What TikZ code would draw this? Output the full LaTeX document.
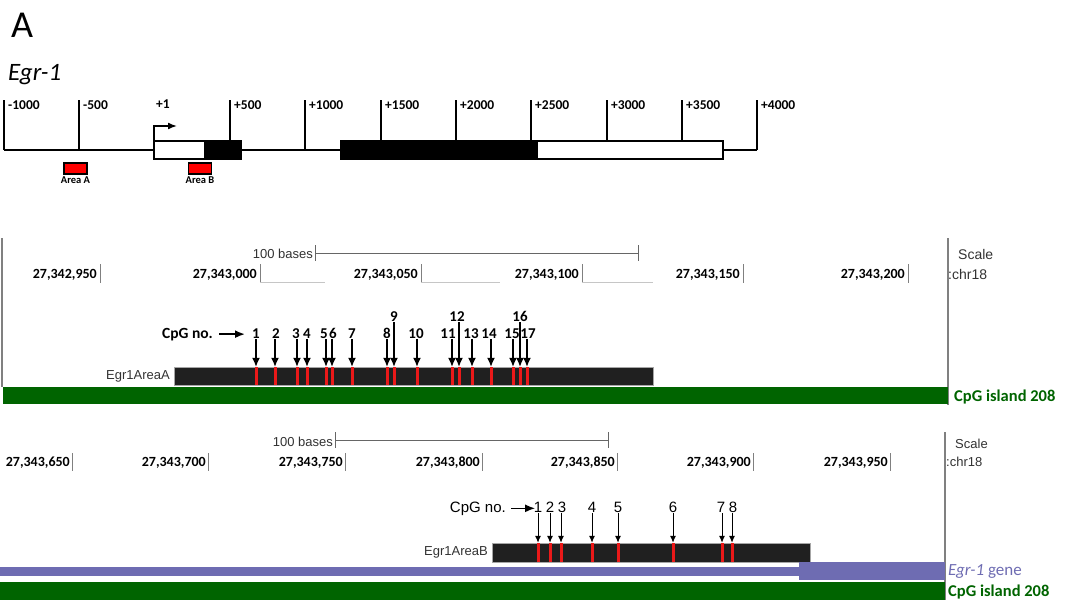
\documentclass[tikz,border=0pt]{standalone}
\usepackage{fontspec}
\setmainfont{Carlito}
\newfontfamily\ucscfont{Liberation Sans}
\usetikzlibrary{arrows.meta,positioning}

\definecolor{islandgreen}{RGB}{0,100,0}
\definecolor{genepurple}{RGB}{110,108,178}
\definecolor{sitered}{RGB}{235,25,25}
\definecolor{ampgray}{RGB}{32,32,32}
\definecolor{browsergray}{RGB}{50,50,50}

\tikzset{
  rulerline/.style={line width=1.6pt},
  rulerlabel/.style={font=\bfseries\fontsize{13.5}{13.5}\selectfont, anchor=base west, inner sep=1pt},
  arealabel/.style={font=\bfseries\fontsize{10.5}{10.5}\selectfont, inner sep=0pt},
  areabox/.style={fill=red, draw=black, line width=1.2pt, minimum width=23pt, minimum height=11pt, inner sep=0pt},
  poslabel/.style={font=\bfseries\fontsize{14}{14}\selectfont, anchor=base east, inner sep=0pt},
  postick/.style={gray, line width=1pt},
  scaletext/.style={font=\ucscfont\fontsize{13}{13}\selectfont, text=browsergray, inner sep=0pt},
  cpgnum/.style={font=\bfseries\fontsize{15}{15}\selectfont, anchor=base, inner sep=1pt},
  cpgnumB/.style={font=\ucscfont\fontsize{15}{15}\selectfont, anchor=base, inner sep=1pt},
  cpgmark/.style={fill=sitered, minimum width=3pt, minimum height=18pt, inner sep=0pt},
  cpgarrow/.style={line width=1.3pt, -{Latex[length=9pt,width=8pt]}},
  cpgarrowB/.style={line width=1pt, -{Latex[length=7pt,width=6pt]}},
  cpgpointer/.style={line width=1.8pt, -{Latex[length=10pt,width=8pt]}},
  ampbar/.style={fill=ampgray, draw=gray!70, line width=0.4pt, inner sep=0pt, anchor=west},
  tracklabel/.style={font=\bfseries\fontsize{16.5}{16.5}\selectfont, anchor=base west, inner sep=0pt},
}

\begin{document}
\begin{tikzpicture}[x=1pt, y=-1pt]
  \useasboundingbox (0,0) rectangle (1067,603);

  % Panel letter and gene name
  \node[font=\fontsize{38}{38}\selectfont, anchor=base west, inner sep=0pt] (panel) at (11,37) {A};
  \node[font=\itshape\fontsize{25}{25}\selectfont, anchor=base west, inner sep=0pt] (genename) at (8,80) {Egr-1};

  % Gene structure: exons
  \draw[rulerline, fill=white] (154,141) rectangle (205,159);
  \draw[rulerline, fill=black] (205,141) rectangle (241,159);
  \draw[rulerline, fill=black] (341,141) rectangle (537,159);
  \draw[rulerline, fill=white] (537,141) rectangle (723,159);

  % Baseline between exons
  \draw[rulerline] (4,150) -- (154,150);
  \draw[rulerline] (241,150) -- (341,150);
  \draw[rulerline] (723,150) -- (757,150);

  % Ruler ticks: x/label/bottom
  \foreach \x/\lbl/\bot in {4/-1000/150, 79/-500/150, 230/+500/141, 305/+1000/150,
      381/+1500/141, 456/+2000/141, 531/+2500/141, 607/+3000/141, 682/+3500/141, 757/+4000/150} {
    \draw[rulerline] (\x,100) -- (\x,\bot);
    \node[rulerlabel] at (\x+3,109) {\lbl};
  }
  \node[rulerlabel] (tss) at (155,108) {+1};

  % Transcription start
  \draw[rulerline, -{Latex[length=9pt,width=7pt]}] (154,141) -- (154,126) -- (177,126);

  % Analysed areas
  \node[areabox] (areaA) at (75.5,168.5) {};
  \node[arealabel, below=2pt of areaA] (areaAtxt) {Area A};
  \node[areabox] (areaB) at (200,168.5) {};
  \node[arealabel, below=2pt of areaB] (areaBtxt) {Area B};

  %% ---------- Browser view, Area A ----------
  \draw[gray, line width=1.2pt] (2,238) -- (2,387);
  \draw[gray, line width=1.2pt] (948,238) -- (948,405);

  % Scale bar
  \node[scaletext, anchor=base east] (scaleA) at (313,258) {100 bases};
  \draw[gray!80!black, line width=0.8pt] (315,253) -- (638,253);
  \draw[gray!80!black, line width=0.8pt] (315,245) -- (315,261);
  \draw[gray!80!black, line width=0.8pt] (638,245) -- (638,261);
  \node[scaletext, anchor=base west, font=\ucscfont\fontsize{14}{14}\selectfont] (scaleAtxt) at (958,259) {Scale};
  \node[scaletext, anchor=base west, font=\ucscfont\fontsize{14}{14}\selectfont] (chrA) at (948,279) {:chr18};

  % Chromosome positions
  \foreach \x/\lbl in {100/{27,342,950}, 260/{27,343,000}, 421/{27,343,050},
      582/{27,343,100}, 743/{27,343,150}, 908/{27,343,200}} {
    \node[poslabel] at (\x-3,278) {\lbl};
    \draw[postick] (\x,264) -- (\x,283);
  }
  \foreach \a/\b in {260/325, 421/500, 582/653}
    \draw[gray!45, line width=0.8pt] (\a,282) -- (\b,282);

  % Amplicon A
  \node[ampbar, minimum width=479pt, minimum height=18pt] (barA) at (174,376) {};
  \node[scaletext, left=4pt of barA] (barAtxt) {Egr1AreaA};

  % CpG sites: no./mark x/label x/label baseline
  \foreach \n/\x/\lx/\ly in {1/256/256/338, 2/275/276/338, 3/297/296/338, 4/307/307/338,
      5/326/324/338, 6/332/333/338, 7/352/352/338, 8/387/387/338, 9/394/394/321,
      10/417/416/338, 11/452/448/338, 12/459/457/321, 13/472/471/338, 14/491/489/338,
      15/513/512/338, 16/520/520/321, 17/527/528/338} {
    \node[cpgmark] (a\n) at (\x,376) {};
    \node[cpgnum] (na\n) at (\lx,\ly) {\n};
    \draw[cpgarrow] (na\n.south -| a\n.north) -- (a\n.north);
  }
  \node[cpgnum, anchor=base east, font=\bfseries\fontsize{15.5}{15.5}\selectfont] (cpgA) at (214,338) {CpG no.};
  \coordinate (cpgAend) at ([xshift=31pt]cpgA.east);
  \draw[cpgpointer] ([xshift=5pt]cpgA.east) -- (cpgAend);

  % CpG island track
  \fill[islandgreen] (3,387) rectangle (948,404);
  \node[tracklabel, text=islandgreen] (islandA) at (954,401) {CpG island 208};

  %% ---------- Browser view, Area B ----------
  \draw[gray, line width=1.2pt] (945,432) -- (945,600);

  % Scale bar
  \node[scaletext, anchor=base east] (scaleB) at (333,446) {100 bases};
  \draw[gray!80!black, line width=0.8pt] (335,440) -- (608,440);
  \draw[gray!80!black, line width=0.8pt] (335,432) -- (335,448);
  \draw[gray!80!black, line width=0.8pt] (608,432) -- (608,448);
  \node[scaletext, anchor=base west] (scaleBtxt) at (955,448) {Scale};
  \node[scaletext, anchor=base west] (chrB) at (946,466) {:chr18};

  % Chromosome positions
  \foreach \x/\lbl in {72/{27,343,650}, 208/{27,343,700}, 345/{27,343,750},
      482/{27,343,800}, 617/{27,343,850}, 753/{27,343,900}, 890/{27,343,950}} {
    \node[poslabel] at (\x-2,466) {\lbl};
    \draw[postick] (\x,453) -- (\x,471);
  }

  % Amplicon B
  \node[ampbar, minimum width=318pt, minimum height=19pt] (barB) at (492,552.5) {};
  \node[scaletext, left=4pt of barB] (barBtxt) {Egr1AreaB};

  % CpG sites: no./mark x/label x
  \foreach \n/\x/\lx in {1/538/538, 2/550/550, 3/561/562, 4/592/592,
      5/618/618, 6/673/673, 7/722/721, 8/732/733} {
    \node[cpgmark, minimum height=19pt] (b\n) at (\x,552.5) {};
    \node[cpgnumB] (nb\n) at (\lx,512) {\n};
    \draw[cpgarrowB] (nb\n.south -| b\n.north) -- (b\n.north);
  }
  \node[cpgnumB, anchor=base east] (cpgB) at (507,512) {CpG no.};
  \coordinate (cpgBend) at ([xshift=28pt]cpgB.east);
  \draw[cpgpointer, line width=1.3pt] ([xshift=4pt]cpgB.east) -- (cpgBend);

  % Gene and CpG island tracks
  \fill[genepurple] (0,567) rectangle (799,576);
  \fill[genepurple] (799,562) rectangle (945,580);
  \fill[islandgreen] (0,582) rectangle (945,600);
  \node[tracklabel, font=\fontsize{17}{17}\selectfont, text=genepurple] (geneB) at (948,575) {\textit{Egr-1} gene};
  \node[tracklabel, text=islandgreen] (islandB) at (948,596) {CpG island 208};
\end{tikzpicture}
\end{document}
